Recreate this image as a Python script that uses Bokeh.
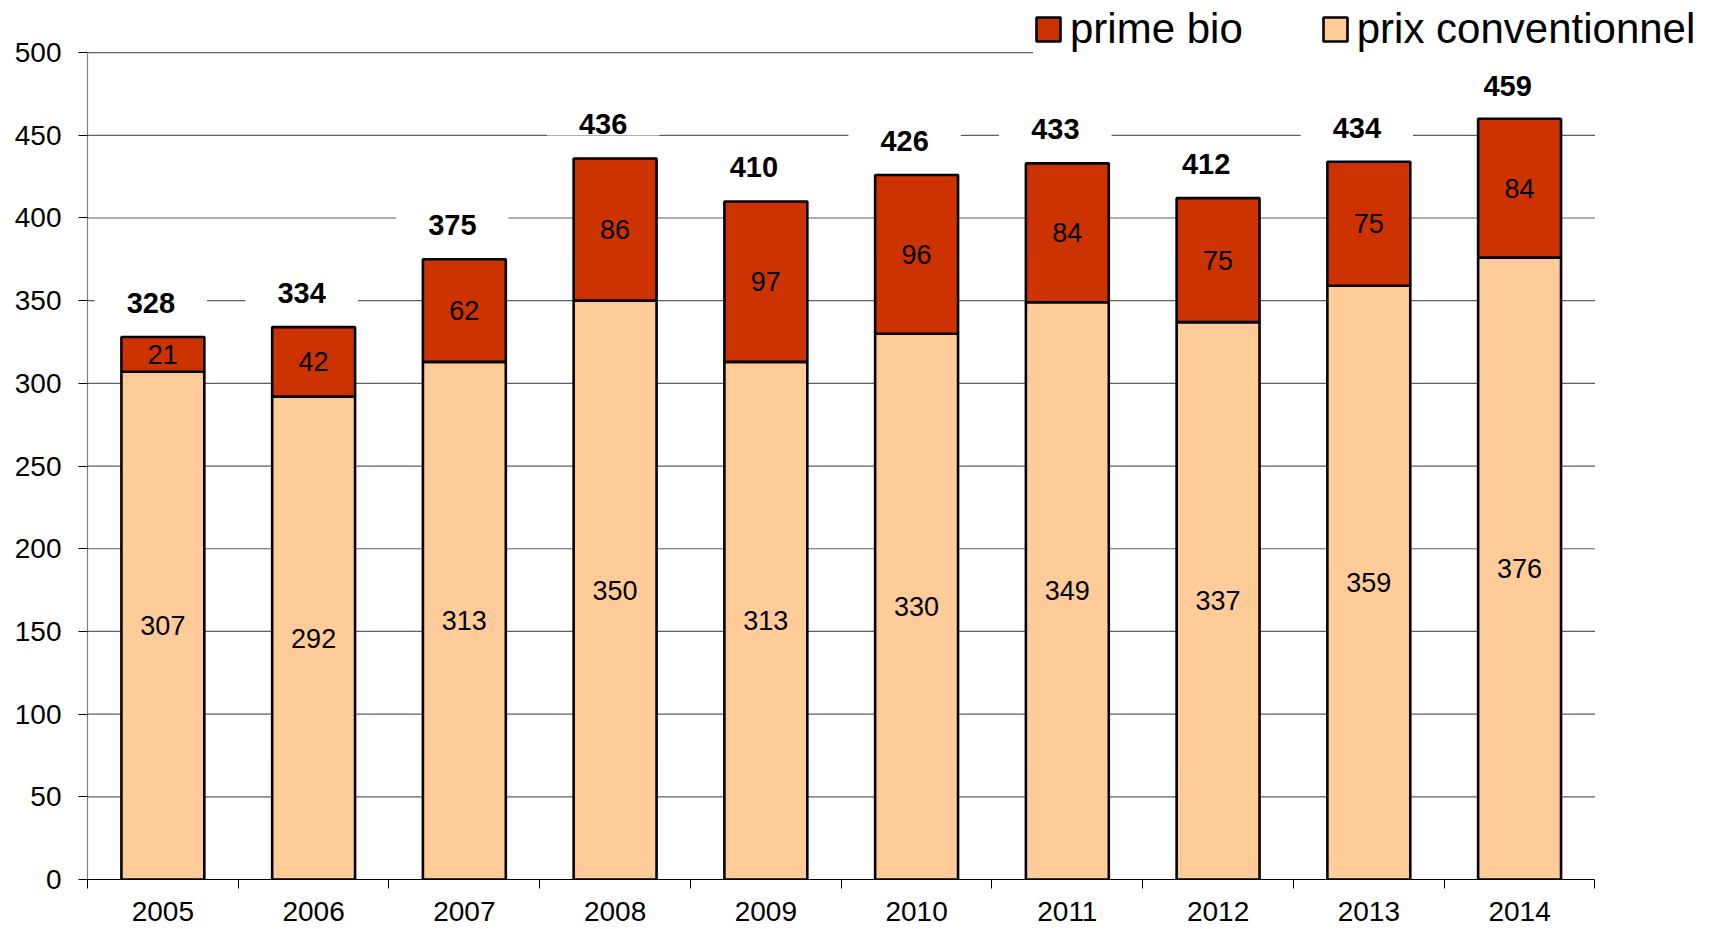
import numpy as np
from bokeh.plotting import figure
from bokeh.models import (ColumnDataSource, FixedTicker, Legend,
                          LegendItem, Range1d)
from bokeh.core.properties import value
from bokeh.embed import file_html
from bokeh.resources import INLINE

# ---- data ----
years = ["2005", "2006", "2007", "2008", "2009", "2010", "2011", "2012", "2013", "2014"]
prix_conventionnel = [307, 292, 313, 350, 313, 330, 349, 337, 359, 376]
prime_bio = [21, 42, 62, 86, 97, 96, 84, 75, 75, 84]
totals = [328, 334, 375, 436, 410, 426, 433, 412, 434, 459]
y_ticks = [0, 50, 100, 150, 200, 250, 300, 350, 400, 450, 500]

FONT = "Liberation Sans"
C_BIO = "#CC3300"
C_CONV = "#FFCC99"
GRID = "#5f5f5f"

n = len(years)
xs = np.arange(n)
conv = np.array(prix_conventionnel, dtype=float)
bio = np.array(prime_bio, dtype=float)
x_lo, x_hi = xs[0] - 0.5, xs[-1] + 0.5

src = ColumnDataSource(dict(
    x=xs,
    conv=conv,
    top=conv + bio,
    conv_mid=conv / 2.0,
    bio_mid=conv + bio / 2.0,
    conv_txt=[str(v) for v in prix_conventionnel],
    bio_txt=[str(v) for v in prime_bio],
    total=totals,
    total_txt=[str(v) for v in totals],
))

p = figure(width=1716, height=929, output_backend="svg", toolbar_location=None,
           x_range=Range1d(x_lo, 10.24), y_range=Range1d(0, 531.5),
           min_border_left=87, min_border_right=10, min_border_top=0,
           min_border_bottom=50)
p.outline_line_color = None
p.background_fill_color = "white"
p.xgrid.grid_line_color = None
p.ygrid.grid_line_color = None

# horizontal grid lines limited to the category span
gy = [t for t in y_ticks if t > 0]
p.segment(x0=[x_lo] * len(gy), x1=[x_hi] * len(gy), y0=gy, y1=gy,
          line_color=GRID, line_width=1.2)

r_conv = p.vbar(x="x", bottom=0, top="conv", width=0.55, source=src,
                fill_color=C_CONV, line_color="black", line_width=2.6)
r_bio = p.vbar(x="x", bottom="conv", top="top", width=0.55, source=src,
               fill_color=C_BIO, line_color="black", line_width=2.6)

# segment labels
for col, txt in (("conv_mid", "conv_txt"), ("bio_mid", "bio_txt")):
    p.text(x="x", y=col, text=txt, source=src, text_align="center",
           text_baseline="middle", text_font=value(FONT),
           text_font_size="27px", text_color="black")

# totals above bars (white box hides the grid line behind them)
p.text(x="x", y="total", text="total_txt", source=src,
       x_offset=-12, y_offset=-34, text_align="center",
       text_baseline="middle", text_font=value(FONT),
       text_font_size="29px", text_font_style="bold",
       text_color="black", background_fill_color="white",
       padding=dict(left=32, right=32, top=1, bottom=1))

# x axis: labels at category centres, ticks at boundaries
xa = p.xaxis[0]
xa.ticker = FixedTicker(ticks=[int(i) for i in xs],
                        minor_ticks=[i - 0.5 for i in range(n + 1)])
xa.major_label_overrides = {int(i): y for i, y in zip(xs, years)}
xa.bounds = (x_lo, x_hi)
xa.major_tick_out = 0
xa.major_tick_in = 0
xa.minor_tick_out = 9
xa.minor_tick_in = 0
xa.minor_tick_line_color = "black"
xa.minor_tick_line_width = 1
xa.axis_line_color = "black"
xa.axis_line_width = 1
xa.major_label_standoff = 13
xa.major_label_text_font = FONT
xa.major_label_text_font_size = "28px"
xa.major_label_text_color = "black"

ya = p.yaxis[0]
ya.ticker = FixedTicker(ticks=y_ticks)
ya.bounds = (0, 500)
ya.major_tick_out = 9
ya.major_tick_in = 0
ya.major_tick_line_color = "black"
ya.minor_tick_line_color = None
ya.axis_line_color = "#808080"
ya.axis_line_width = 1.2
ya.major_label_standoff = 17
ya.major_label_text_font = FONT
ya.major_label_text_font_size = "28px"
ya.major_label_text_color = "black"

legend = Legend(items=[LegendItem(label="prime bio", renderers=[r_bio]),
                       LegendItem(label="prix conventionnel", renderers=[r_conv])],
                orientation="horizontal", location=(946, 825),
                label_text_font=FONT, label_text_font_size="42px",
                label_text_color="black", label_height=51,
                glyph_width=30, glyph_height=30, label_standoff=7, spacing=77,
                padding=0, margin=0, border_line_color=None,
                background_fill_color="white", background_fill_alpha=1.0)
p.add_layout(legend)

open("out.html", "w").write(file_html(p, INLINE))
